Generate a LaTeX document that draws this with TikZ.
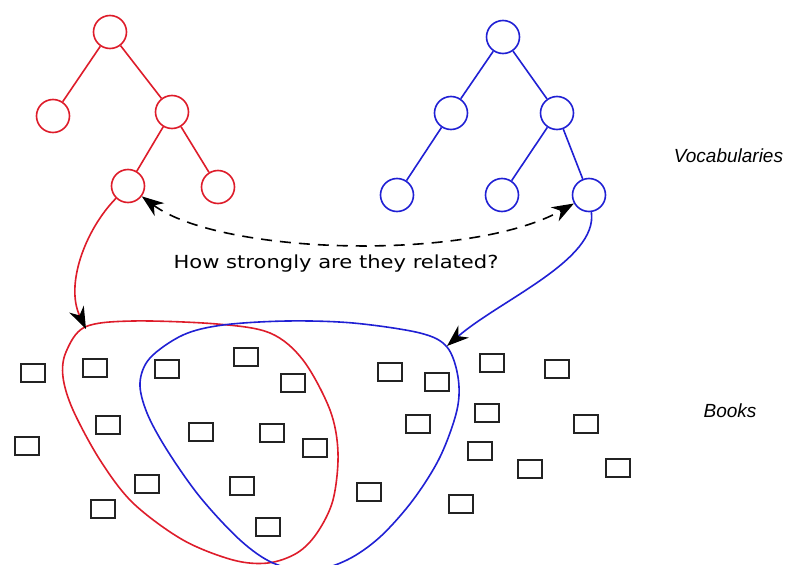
\documentclass[tikz,border=0pt]{standalone}
\usepackage{fontspec}
\setmainfont{Liberation Sans}
\newfontfamily\dejavu{DejaVu Sans}
\usetikzlibrary{arrows.meta}
\definecolor{tred}{RGB}{222,28,42}
\definecolor{tblue}{RGB}{32,32,212}
\definecolor{boxgray}{RGB}{35,35,35}
\tikzset{
  rnode/.style={circle, draw=tred, line width=1.6pt, minimum size=33pt, inner sep=0pt},
  bnode/.style={circle, draw=tblue, line width=1.6pt, minimum size=33pt, inner sep=0pt},
  redge/.style={draw=tred, line width=1.6pt},
  bedge/.style={draw=tblue, line width=1.6pt},
  book/.style={draw=boxgray, line width=1.7pt, minimum width=24pt, minimum height=18pt, inner sep=0pt},
  bighead/.tip={Stealth[length=22pt,width=16pt,inset=7pt]},
  arrtip/.style={-{bighead[color=black]}},
  txtlabel/.style={font=\fontsize{19}{22}\selectfont\itshape, anchor=base, inner sep=0pt}
}
\begin{document}
\begin{tikzpicture}[x=1pt,y=-1pt]
\useasboundingbox[fill=white] (0,0) rectangle (788,565);
% red tree
\node[rnode] (r1) at (110,32) {};
\node[rnode] (r2) at (53,116) {};
\node[rnode] (r3) at (172,112) {};
\node[rnode] (r4) at (128,186) {};
\node[rnode] (r5) at (218,187) {};
\draw[redge] (r1) -- (r2);
\draw[redge] (r1) -- (r3);
\draw[redge] (r3) -- (r4);
\draw[redge] (r3) -- (r5);
% blue tree
\node[bnode] (b1) at (503,37) {};
\node[bnode] (b2) at (451,113) {};
\node[bnode] (b3) at (557,113) {};
\node[bnode] (b4) at (397,195) {};
\node[bnode] (b5) at (502,195) {};
\node[bnode] (b6) at (589,195) {};
\draw[bedge] (b1) -- (b2);
\draw[bedge] (b1) -- (b3);
\draw[bedge] (b2) -- (b4);
\draw[bedge] (b3) -- (b5);
\draw[bedge] (b3) -- (b6);
% labels
\node[txtlabel] (voc) at (728.5,162) {Vocabularies};
\node[txtlabel] (bks) at (730,417) {Books};
% books
\foreach \i/\x/\y in {1/33/373, 2/95/368, 3/167/369, 4/246/357, 5/293/383,
  6/390/372, 7/437/382, 8/492/363, 9/557/369, 10/27/446, 11/108/425,
  12/201/432, 13/272/433, 14/315/448, 15/418/424, 16/487/413, 17/586/424,
  18/480/451, 19/530/469, 20/618/468, 21/147/484, 22/242/486, 23/369/492,
  24/103/509, 25/461/504, 26/268/527}
  \node[book] (bk\i) at (\x,\y) {};
% red blob
\draw[tred, line width=1.6pt] plot[smooth cycle, tension=0.55] coordinates {
  (85,327) (133,321) (217,324) (270,333) (303,360) (330,410) (338,453)
  (333,500) (317,533) (297,553) (268,563) (233,560) (183,540) (133,503)
  (100,460) (73,410) (63,377) (66,352)};
% blue blob
\draw[tblue, line width=1.6pt] plot[smooth cycle, tension=0.55] coordinates {
  (223,325) (287,321) (353,323) (420,333) (447,347) (458,377) (457,410)
  (440,457) (413,500) (380,537) (347,560) (310,571) (273,563) (240,540)
  (200,497) (167,450) (147,413) (140,383) (150,358) (183,335)};
% arrows
\coordinate (redtip) at (86,329);
\coordinate (bluetip) at (447,346);
\draw[tred, line width=1.6pt, arrtip] (r4) .. controls (85,230) and (65,285) .. (redtip);
\draw[tblue, line width=1.6pt, arrtip] (b6) .. controls (598,260) and (500,300) .. (bluetip);
\draw[black, line width=1.6pt, dash pattern=on 11pt off 8pt, {bighead}-{bighead}]
  (r4) .. controls (220,255) and (470,262) .. (b6);
\node[font=\dejavu\fontsize{18}{22}\selectfont, anchor=base, inner sep=0pt] (q) at (336,268)
  {\scalebox{1.17}[1]{How strongly are they related?}};
\end{tikzpicture}
\end{document}
